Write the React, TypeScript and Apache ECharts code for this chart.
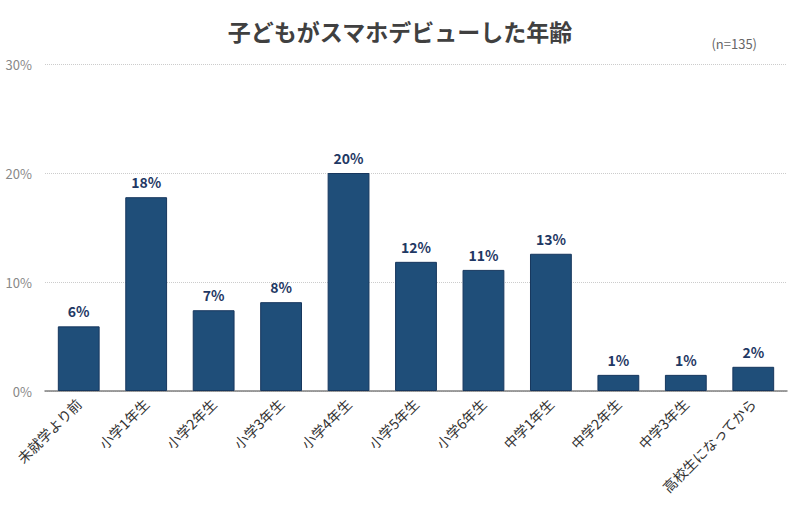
import React, { useEffect, useRef } from "react";
import * as echarts from "echarts";

const categories = [
  "未就学より前",
  "小学1年生",
  "小学2年生",
  "小学3年生",
  "小学4年生",
  "小学5年生",
  "小学6年生",
  "中学1年生",
  "中学2年生",
  "中学3年生",
  "高校生になってから",
];
// percent of n=135
const shares = [5.93, 17.78, 7.41, 8.15, 20.0, 11.85, 11.11, 12.59, 1.48, 1.48, 2.22];
const yTicks = [0, 10, 20, 30];

const FONT = "'Noto Sans CJK JP', 'Noto Sans', sans-serif";

const App: React.FC = () => {
  const chartRef = useRef<HTMLDivElement>(null);

  useEffect(() => {
    document.body.style.margin = "0";
    const chart = echarts.init(chartRef.current!, undefined, { renderer: "svg" });
    chart.setOption({
      animation: false,
      textStyle: { fontFamily: FONT },
      title: {
        text: "子どもがスマホデビューした年齢",
        left: "center",
        top: 14,
        textStyle: { fontSize: 23, fontWeight: "bold", color: "#404040", fontFamily: FONT },
      },
      graphic: [
        {
          type: "text",
          right: 43,
          top: 37,
          style: { text: "(n=135)", fontSize: 13, fill: "#666", fontFamily: FONT },
        },
      ],
      grid: { left: 45, right: 13, top: 64, bottom: 115 },
      xAxis: {
        type: "category",
        data: categories,
        axisTick: { show: false },
        axisLine: { lineStyle: { color: "#808080", width: 1.5 } },
        axisLabel: { rotate: 45, fontSize: 14, color: "#333", margin: 10, interval: 0 },
      },
      yAxis: {
        type: "value",
        min: yTicks[0],
        max: yTicks[yTicks.length - 1],
        interval: 10,
        axisLabel: {
          formatter: "{value}%",
          fontSize: 13,
          color: "#888",
          margin: 13,
        },
        splitLine: { lineStyle: { color: "#ccc", type: "dotted" } },
      },
      series: [
        {
          type: "bar",
          data: shares,
          barCategoryGap: "38%",
          itemStyle: { color: "#1f4e79", borderColor: "#17375e", borderWidth: 1 },
          label: {
            show: true,
            position: "top",
            distance: 8,
            fontSize: 14,
            fontWeight: "bold",
            color: "#1f3864",
            formatter: (p: any) => `${Math.round(p.value)}%`,
          },
        },
      ],
    });
    return () => chart.dispose();
  }, []);

  return <div ref={chartRef} style={{ width: 800, height: 506 }} />;
};

export default App;
